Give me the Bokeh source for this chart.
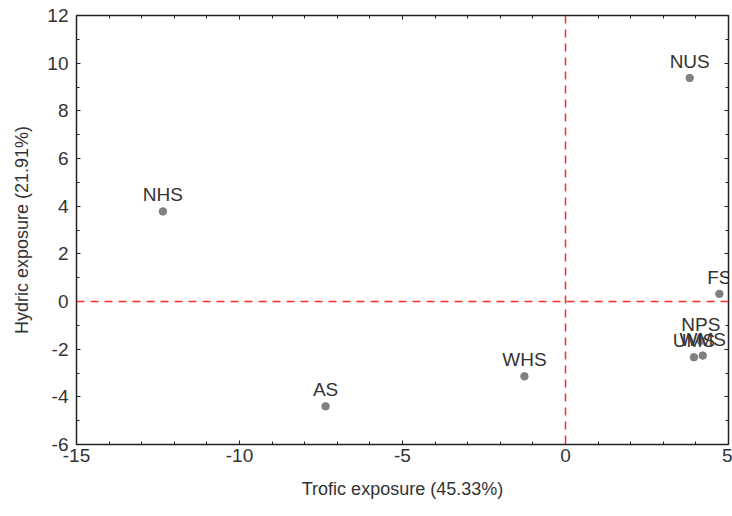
from bokeh.plotting import figure
from bokeh.models import ColumnDataSource, LinearAxis, SingleIntervalTicker, Span, Range1d, CustomJSTickFormatter
from bokeh.core.properties import value
from bokeh.embed import file_html
from bokeh.resources import INLINE

labels = ["NHS", "AS", "WHS", "NUS", "FS", "NPS", "UMS", "WMS"]
trofic = [-12.35, -7.36, -1.26, 3.81, 4.72, 4.15, 3.94, 4.21]
hydric = [3.78, -4.40, -3.14, 9.38, 0.32, -1.65, -2.34, -2.27]

x_ticks = [-15, -10, -5, 0, 5]
x_tick_labels = ["-15", "-10", "-5", "0", "5"]
y_ticks = [-6, -4, -2, 0, 2, 4, 6, 8, 10, 12]
y_tick_labels = ["-6", "-4", "-2", "0", "2", "4", "6", "8", "10", "12"]

FONT = "Liberation Sans"
INK = "#333333"

p = figure(width=732, height=516, output_backend="svg", toolbar_location=None,
           x_range=Range1d(-15, 5), y_range=Range1d(-6, 12),
           x_axis_label="Trofic exposure (45.33%)",
           y_axis_label="Hydric exposure (21.91%)")
p.min_border_left = 76
p.min_border_right = 4
p.min_border_top = 15
p.min_border_bottom = 72
p.frame_width = 652
p.frame_height = 429
p.xgrid.visible = False
p.ygrid.visible = False
p.outline_line_color = "#222222"
p.outline_line_width = 1.5
p.background_fill_color = "white"
p.border_fill_color = "white"

xt = SingleIntervalTicker(interval=5, num_minor_ticks=5)
yt = SingleIntervalTicker(interval=2, num_minor_ticks=2)
p.xaxis.ticker = xt
p.yaxis.ticker = yt
p.xaxis.major_label_overrides = {t: s for t, s in zip(x_ticks, x_tick_labels)}
p.yaxis.major_label_overrides = {t: s for t, s in zip(y_ticks, y_tick_labels)}

for ax in [p.xaxis[0], p.yaxis[0]]:
    ax.major_label_text_font = FONT
    ax.major_label_text_font_size = "19px"
    ax.major_label_text_color = INK
    ax.axis_label_text_font = FONT
    ax.axis_label_text_font_size = "18px"
    ax.axis_label_text_font_style = "normal"
    ax.axis_label_text_color = INK
    ax.major_tick_in = 4
    ax.major_tick_out = 0
    ax.minor_tick_in = 3
    ax.minor_tick_out = 0
    ax.axis_line_color = "#222222"
    ax.major_tick_line_color = "#222222"
    ax.minor_tick_line_color = "#222222"
p.xaxis.major_label_standoff = 4
p.xaxis.axis_label_standoff = 14
p.yaxis.major_label_standoff = 8
p.yaxis.axis_label_standoff = 12

for loc, tk in [("above", xt), ("right", yt)]:
    a = LinearAxis(ticker=tk, formatter=CustomJSTickFormatter(code="return ''"))
    a.major_label_text_font_size = "1px"
    a.major_tick_in = 4
    a.major_tick_out = 0
    a.minor_tick_in = 3
    a.minor_tick_out = 0
    a.axis_line_color = "#222222"
    a.major_tick_line_color = "#222222"
    a.minor_tick_line_color = "#222222"
    a.major_label_standoff = 0
    p.add_layout(a, loc)

p.add_layout(Span(location=0, dimension="width", line_color="#ff2a2a",
                  line_dash="8 6", line_width=1.5))
p.add_layout(Span(location=0, dimension="height", line_color="#ff2a2a",
                  line_dash="8 6", line_width=1.5))

src = ColumnDataSource(dict(x=trofic, y=hydric, label=labels))
p.scatter("x", "y", source=src, size=7.5, color="#808080", line_color="#808080")
p.text("x", "y", text="label", source=src, text_align="center",
       text_baseline="bottom", y_offset=-6, text_font=value(FONT),
       text_font_size="19px", text_color=INK)

open("out.html", "w").write(file_html(p, INLINE))
